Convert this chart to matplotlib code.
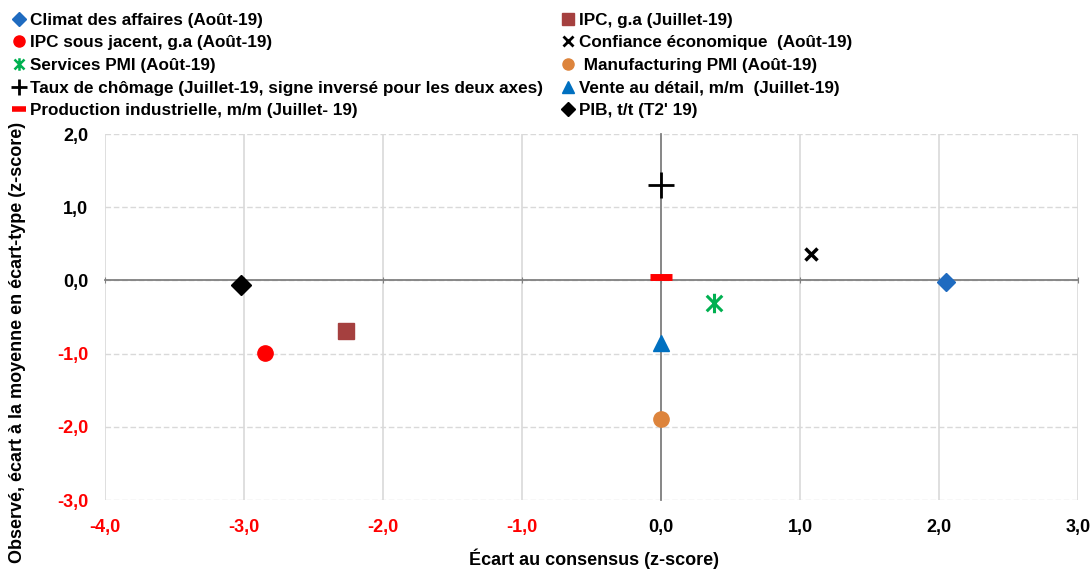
import matplotlib
matplotlib.use("Agg")
import matplotlib.pyplot as plt
from matplotlib.path import Path

plt.rcParams['font.family'] = ['Liberation Sans', 'DejaVu Sans']
plt.rcParams['font.weight'] = 'bold'

# series, in legend order (column-major, 2 columns)
labels = [
    "Climat des affaires (Août-19)",
    "IPC sous jacent, g.a (Août-19)",
    "Services PMI (Août-19)",
    "Taux de chômage (Juillet-19, signe inversé pour les deux axes)",
    "Production industrielle, m/m (Juillet- 19)",
    "IPC, g.a (Juillet-19)",
    "Confiance économique  (Août-19)",
    " Manufacturing PMI (Août-19)",
    "Vente au détail, m/m  (Juillet-19)",
    "PIB, t/t (T2' 19)",
]
x_vals = [2.05, -2.85, 0.38, 0.0, 0.0, -2.27, 1.08, 0.0, 0.0, -3.02]
y_vals = [-0.02, -0.99, -0.31, 1.30, 0.04, -0.69, 0.36, -1.89, -0.86, -0.06]

# x with a vertical bar, like the spreadsheet star marker
star = Path([(0, -1), (0, 1), (-0.8, -0.8), (0.8, 0.8), (-0.8, 0.8), (0.8, -0.8)],
            [Path.MOVETO, Path.LINETO] * 3)

colors = ["#1F6BC0", "#FF0000", "#00B050", "black", "#FF0000",
          "#A5403F", "black", "#DD843C", "#0070C0", "black"]
markers = ["D", "o", star, "+", "_", "s", "x", "o", "^", "D"]
sizes = [9, 11, 14, 19, 16, 11, 9, 11, 12, 10]
edge_w = [1, 1, 2.2, 2, 5, 1, 2.5, 1, 1, 1]
# marker sizes used in the legend
leg_sizes = [7, 8, 9, 11, 10, 8, 7, 8, 8, 7]
leg_edge_w = [1, 1, 1.8, 2, 4, 1, 2, 1, 1, 1]

x_ticks = [-4, -3, -2, -1, 0, 1, 2, 3]
y_ticks = [-3, -2, -1, 0, 1, 2]

fig = plt.figure(figsize=(10.92, 5.71), dpi=100)
ax = fig.add_axes([0.0962, 0.1243, 0.8910, 0.6410])

for i in range(len(labels)):
    ax.plot(x_vals[i], y_vals[i], linestyle="none", marker=markers[i],
            markersize=sizes[i], color=colors[i], markeredgewidth=edge_w[i],
            label=labels[i], zorder=4)

ax.set_xlim(-4, 3)
ax.set_ylim(-3, 2)

# grid: vertical solid, horizontal dashed
for xv in x_ticks:
    ax.axvline(xv, color="#d9d9d9", lw=1.2, zorder=0)
for yv in y_ticks:
    ax.axhline(yv, color="#d9d9d9", lw=1.0, ls=(0, (4, 2)), zorder=0)

# axes crossing at zero
ax.spines['left'].set_position(('data', 0))
ax.spines['bottom'].set_position(('data', 0))
ax.spines['left'].set_color("#808080")
ax.spines['bottom'].set_color("#808080")
ax.spines['left'].set_linewidth(1.3)
ax.spines['bottom'].set_linewidth(1.3)
ax.spines['top'].set_visible(False)
ax.spines['right'].set_visible(False)
ax.set_xticks(x_ticks)
ax.set_yticks(y_ticks)
ax.tick_params(axis="x", direction="inout", length=5, color="#808080",
               labelbottom=False)
ax.tick_params(axis="y", length=0, labelleft=False)

# tick labels at the outer edges
def fmt(v):
    return f"{v:.1f}".replace(".", ",")

secx = ax.secondary_xaxis(0.0)
secx.set_xticks(x_ticks, labels=[fmt(v) for v in x_ticks])
secx.tick_params(length=0, pad=14, labelsize=13)
secx.spines['bottom'].set_visible(False)
for lab, v in zip(secx.get_xticklabels(), x_ticks):
    lab.set_color("red" if v < 0 else "black")
    lab.set_fontweight("bold")

secy = ax.secondary_yaxis(0.0)
secy.set_yticks(y_ticks, labels=[fmt(v) for v in y_ticks])
secy.tick_params(length=0, pad=12, labelsize=13)
secy.spines['left'].set_visible(False)
for lab, v in zip(secy.get_yticklabels(), y_ticks):
    lab.set_color("red" if v < 0 else "black")
    lab.set_fontweight("bold")

fig.text(0.544, 0.022, "Écart au consensus (z-score)", ha="center", va="center",
         fontsize=13, fontweight="bold")
fig.text(0.016, 0.40, "Observé, écart à la moyenne en écart-type (z-score)",
         ha="center", va="center", rotation=90, fontsize=13, fontweight="bold")

leg = fig.legend(loc="upper left", bbox_to_anchor=(0.006, 0.990), ncol=2,
                 frameon=False, fontsize=12.3, handlelength=0.7, handletextpad=0.3,
                 columnspacing=1.1, labelspacing=0.45, borderaxespad=0)
for t in leg.get_texts():
    t.set_fontweight("bold")
for h, s, w in zip(leg.legend_handles, leg_sizes, leg_edge_w):
    h.set_markersize(s)
    h.set_markeredgewidth(w)

fig.savefig("out.png", dpi=100)
